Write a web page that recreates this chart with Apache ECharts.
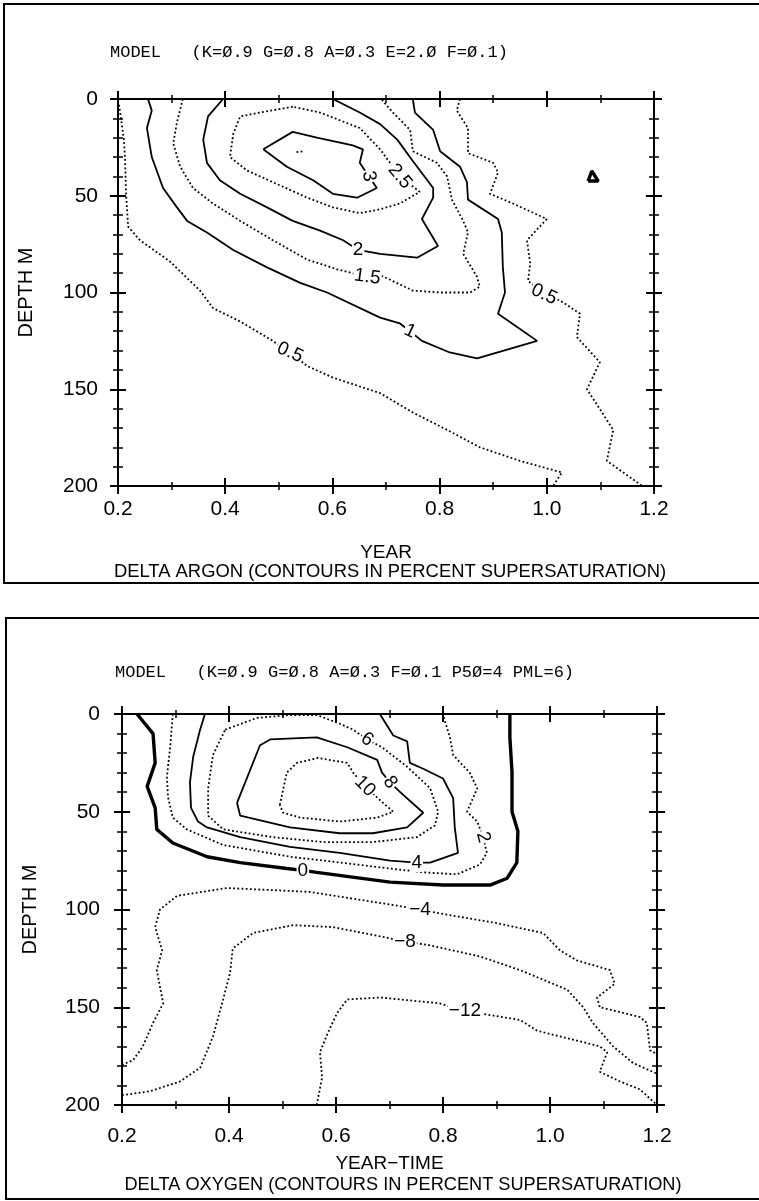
<!DOCTYPE html>
<html>
<head>
<meta charset="utf-8">
<script src="https://cdn.jsdelivr.net/npm/echarts@6/dist/echarts.min.js"></script>
<style>
html,body{margin:0;padding:0;background:#fff}
#main{width:759px;height:1201px}
</style>
</head>
<body>
<div id="main"></div>
<script>
// axis ticks
const yearTicks = [0.2, 0.4, 0.6, 0.8, 1.0, 1.2];
const depthTicks = [0, 50, 100, 150, 200];

// delta argon contours, points are [year, depth m]
const ar05Left = [[0.202,3],[0.211,21],[0.213,30],[0.215,49],[0.219,66],[0.241,73],[0.297,84],[0.353,99],[0.377,108],[0.428,115],[0.489,125],[0.521,131],[0.553,138],[0.601,144],[0.689,152],[0.750,162],[0.814,171],[0.875,180],[0.950,187],[1.028,193],[1.012,200]];
const ar05Right = [[0.838,0],[0.832,6],[0.853,15],[0.853,28],[0.900,33],[0.909,38],[0.894,49],[0.937,54],[1.000,62],[0.963,73],[0.969,85],[0.965,94],[0.993,100],[1.030,105],[1.062,111],[1.056,123],[1.099,136],[1.075,150],[1.124,171],[1.112,187],[1.168,198],[1.178,200]];
const ar05Spot = [[1.077,42.4],[1.084,37.2],[1.096,42.4],[1.077,42.4]];
const ar1 = [[0.256,0],[0.263,6],[0.254,15],[0.263,30],[0.284,46],[0.310,56],[0.329,63],[0.366,69],[0.415,78],[0.478,87],[0.540,95],[0.590,100],[0.689,113],[0.726,116],[0.745,120],[0.767,125],[0.819,131],[0.870,134],[0.982,125],[0.909,111],[0.922,100],[0.918,87],[0.916,69],[0.909,62],[0.853,52],[0.851,43],[0.838,35],[0.801,27],[0.788,16],[0.754,7],[0.750,0]];
const ar15 = [[0.321,0],[0.310,12],[0.303,23],[0.316,35],[0.340,46],[0.377,54],[0.428,63],[0.489,73],[0.553,83],[0.609,88],[0.665,92],[0.689,91],[0.750,99],[0.801,100],[0.857,100],[0.875,97],[0.870,92],[0.844,80],[0.853,69],[0.844,63],[0.823,52],[0.814,40],[0.795,33],[0.750,27],[0.745,16],[0.713,7],[0.694,1],[0.692,0]];
const ar2 = [[0.396,0],[0.368,9],[0.359,21],[0.366,33],[0.390,42],[0.428,49],[0.478,56],[0.526,63],[0.577,68],[0.620,73],[0.648,78],[0.689,80],[0.758,82],[0.797,76],[0.767,62],[0.788,51],[0.788,46],[0.750,32],[0.721,21],[0.689,13],[0.651,7],[0.601,0]];
const ar25 = [[0.526,4],[0.465,7],[0.428,9],[0.415,18],[0.409,30],[0.441,37],[0.489,43],[0.553,51],[0.601,56],[0.651,59],[0.689,57],[0.726,54],[0.763,48],[0.726,40],[0.689,26],[0.651,15],[0.577,7],[0.526,4]];
const ar3 = [[0.471,26],[0.526,17],[0.571,20],[0.638,24],[0.657,26],[0.651,33],[0.668,40],[0.683,46],[0.646,51],[0.601,49],[0.564,42],[0.515,35],[0.471,26]];
const ar35 = [[0.533,27.5],[0.546,27]];
const arLabels = [['3',0.668,40],['2.5',0.726,40],['2',0.648,78],['1.5',0.665,92],['1',0.745,120],['0.5',0.521,131],['0.5',0.995,101]];

// delta oxygen contours
const ox0 = [[0.228,0],[0.258,10],[0.262,25],[0.247,37],[0.262,48],[0.265,59],[0.295,66],[0.359,73],[0.421,76],[0.508,79],[0.538,80],[0.564,81],[0.701,86],[0.800,87.5],[0.888,87.5],[0.920,84],[0.938,76],[0.940,60],[0.929,50],[0.929,30],[0.925,12],[0.925,0]];
const ox2 = [[0.295,0],[0.290,17],[0.284,32],[0.286,42.5],[0.295,53],[0.321,59],[0.389,67],[0.514,73],[0.639,77],[0.763,81],[0.826,82],[0.869,77],[0.882,71],[0.875,63],[0.864,55],[0.845,50],[0.864,38],[0.850,30],[0.819,21],[0.813,12],[0.804,4],[0.800,0]];
const ox4 = [[0.355,0],[0.346,8],[0.333,22],[0.327,35],[0.329,48],[0.342,55],[0.359,58],[0.421,63],[0.514,68],[0.607,71],[0.701,75],[0.751,76],[0.776,76],[0.828,71],[0.822,58],[0.819,43],[0.800,33],[0.763,28],[0.738,25],[0.733,14],[0.707,11],[0.682,0]];
const ox6 = [[0.393,8],[0.452,2],[0.514,0.5],[0.564,0.5],[0.607,5],[0.632,8],[0.658,13],[0.686,17],[0.733,27],[0.776,38],[0.791,50],[0.785,57],[0.751,63],[0.669,65.5],[0.576,65.5],[0.482,63],[0.389,59],[0.361,52],[0.361,38],[0.370,21],[0.393,8]];
const ox8 = [[0.415,45.5],[0.458,16],[0.477,13],[0.564,12],[0.621,17],[0.677,23.5],[0.686,30],[0.701,35],[0.720,40],[0.763,50.5],[0.733,58],[0.669,61],[0.607,61],[0.514,58],[0.421,52],[0.415,45.5]];
const ox10 = [[0.495,46.5],[0.508,30],[0.527,25],[0.566,22.5],[0.621,25],[0.632,30],[0.654,37],[0.682,44],[0.707,50],[0.677,53],[0.607,55],[0.533,53],[0.501,50.5],[0.495,46.5]];
const oxM4 = [[0.200,179.5],[0.221,177],[0.239,170],[0.258,158],[0.277,148],[0.265,131],[0.275,121],[0.262,109],[0.271,100],[0.303,93],[0.396,89],[0.551,91],[0.714,98],[0.757,100],[0.794,102],[0.901,107],[0.987,112],[1.019,121],[1.050,126],[1.112,131],[1.121,138],[1.088,145],[1.093,150],[1.168,155],[1.181,158],[1.187,172],[1.200,174]];
const oxM8 = [[0.200,195],[0.252,193],[0.308,188],[0.346,181],[0.370,165],[0.389,146],[0.402,132.5],[0.407,120],[0.445,112],[0.520,108],[0.594,109],[0.688,114],[0.729,116.5],[0.770,118],[0.869,124],[0.944,131],[1.032,141],[1.062,150],[1.080,158],[1.118,170],[1.155,178.5],[1.200,184]];
const oxM12 = [[0.564,200],[0.574,186],[0.570,173],[0.585,163],[0.602,153],[0.621,146],[0.682,145],[0.794,148],[0.841,152],[0.888,154],[0.944,156.5],[0.976,162],[1.093,170],[1.107,173],[1.093,183],[1.131,188],[1.168,192],[1.200,200]];
const oxLabels = [['6',0.658,13],['8',0.701,35],['10',0.654,37],['4',0.751,76],['0',0.538,80],['2',0.875,63],['\u22124',0.757,100],['\u22128',0.729,116.5],['\u221212',0.841,152]];

// label angles (follow the line)
const arAngles = [-80, -50, 0, -8, -25, -25, -25];
const oxAngles = [-35, -55, -45, 0, 0, -75, 0, 0, 0];

const myChart = echarts.init(document.getElementById('main'));

function xAx(g, pos, inside, main) {
  return {
    type: 'value', gridIndex: g, position: pos,
    min: yearTicks[0], max: yearTicks[yearTicks.length - 1], interval: 0.2,
    splitLine: { show: false },
    axisLine: { onZero: false, lineStyle: { color: '#000', width: 2 } },
    axisTick: { inside: inside, length: 8, lineStyle: { color: '#000', width: 2 } },
    minorTick: { show: true, splitNumber: 2, length: 4, lineStyle: { color: '#000', width: 1.5 } },
    axisLabel: main ? { show: true, color: '#000', fontSize: 21, fontFamily: 'Liberation Sans', margin: main.margin, formatter: v => v.toFixed(1) } : { show: false },
    name: main ? main.name : '',
    nameLocation: 'middle', nameGap: main ? main.gap : 0,
    nameTextStyle: { color: '#000', fontSize: 19, fontFamily: 'Liberation Sans' }
  };
}
function yAx(g, pos, inside, main) {
  return {
    type: 'value', gridIndex: g, position: pos, inverse: true,
    min: depthTicks[0], max: depthTicks[depthTicks.length - 1], interval: 50,
    splitLine: { show: false },
    axisLine: { onZero: false, lineStyle: { color: '#000', width: 2 } },
    axisTick: { inside: inside, length: 8, lineStyle: { color: '#000', width: 2 } },
    minorTick: { show: true, splitNumber: 5, length: 5, lineStyle: { color: '#000', width: 1.5 } },
    axisLabel: main ? { show: true, color: '#000', fontSize: 21, fontFamily: 'Liberation Sans', margin: main.margin } : { show: false },
    name: main ? 'DEPTH M' : '',
    nameLocation: 'middle', nameGap: main ? main.gap : 0, nameRotate: 90,
    nameTextStyle: { color: '#000', fontSize: 20, fontFamily: 'Liberation Sans' }
  };
}

const xAxes = [
  xAx(0, 'bottom', false, { name: 'YEAR', margin: 13, gap: 57 }), xAx(0, 'bottom', true), xAx(0, 'top', false), xAx(0, 'top', true),
  xAx(1, 'bottom', false, { name: 'YEAR\u2212TIME', margin: 21, gap: 49 }), xAx(1, 'bottom', true), xAx(1, 'top', false), xAx(1, 'top', true)
];
const yAxes = [
  yAx(0, 'left', false, { margin: 20, gap: 82 }), yAx(0, 'left', true), yAx(0, 'right', false), yAx(0, 'right', true),
  yAx(1, 'left', false, { margin: 22, gap: 82 }), yAx(1, 'left', true), yAx(1, 'right', false), yAx(1, 'right', true)
];

function contour(data, panel, kind) {
  const w = kind === 'thick' ? 3.4 : 1.8;
  return {
    type: 'line', data: data, xAxisIndex: panel * 4, yAxisIndex: panel * 4,
    symbol: 'none', silent: true, z: 2,
    lineStyle: { color: '#000', width: w, type: kind === 'dot' ? [1.8, 2.4] : 'solid' }
  };
}
function labels(list, angles, panel) {
  return {
    type: 'scatter', xAxisIndex: panel * 4, yAxisIndex: panel * 4,
    symbol: 'circle', symbolSize: 1, itemStyle: { color: '#fff', opacity: 1 }, silent: true, z: 5,
    label: { show: true, position: 'inside', formatter: '{b}', color: '#000', opacity: 1, fontSize: 19,
      fontFamily: 'Liberation Sans', backgroundColor: '#fff', padding: [0, 1] },
    data: list.map((l, i) => ({ name: l[0], value: [l[1], l[2]], label: { rotate: angles[i] } }))
  };
}

const series = [
  contour(ar05Left, 0, 'dot'), contour(ar05Right, 0, 'dot'), contour(ar05Spot, 0, 'thick'),
  contour(ar1, 0, 'solid'), contour(ar15, 0, 'dot'), contour(ar2, 0, 'solid'),
  contour(ar25, 0, 'dot'), contour(ar3, 0, 'solid'), contour(ar35, 0, 'dot'),
  labels(arLabels, arAngles, 0),
  contour(ox0, 1, 'thick'), contour(ox2, 1, 'dot'), contour(ox4, 1, 'solid'),
  contour(ox6, 1, 'dot'), contour(ox8, 1, 'solid'), contour(ox10, 1, 'dot'),
  contour(oxM4, 1, 'dot'), contour(oxM8, 1, 'dot'), contour(oxM12, 1, 'dot'),
  labels(oxLabels, oxAngles, 1)
];

const mono = 'Liberation Mono';
const option = {
  animation: false,
  backgroundColor: '#fff',
  grid: [
    { left: 118, top: 99, width: 536, height: 387 },
    { left: 122, top: 714, width: 535, height: 391 }
  ],
  xAxis: xAxes,
  yAxis: yAxes,
  graphic: [
    { type: 'rect', shape: { x: 4, y: 4, width: 760, height: 579 }, style: { fill: 'none', stroke: '#000', lineWidth: 2 } },
    { type: 'rect', shape: { x: 6, y: 618, width: 760, height: 581 }, style: { fill: 'none', stroke: '#000', lineWidth: 2 } },
    { type: 'text', x: 110, y: 52, style: { text: 'MODEL   (K=\u00d8.9 G=\u00d8.8 A=\u00d8.3 E=2.\u00d8 F=\u00d8.1)', fontSize: 17, fontFamily: mono, fill: '#000', verticalAlign: 'middle' } },
    { type: 'text', x: 115, y: 672, style: { text: 'MODEL   (K=\u00d8.9 G=\u00d8.8 A=\u00d8.3 F=\u00d8.1 P5\u00d8=4 PML=6)', fontSize: 17, fontFamily: mono, fill: '#000', verticalAlign: 'middle' } },
    { type: 'text', x: 390, y: 572, style: { text: 'DELTA ARGON (CONTOURS IN PERCENT SUPERSATURATION)', fontSize: 18.4, fontFamily: 'Liberation Sans', fill: '#000', align: 'center', verticalAlign: 'middle' } },
    { type: 'text', x: 403, y: 1185, style: { text: 'DELTA OXYGEN (CONTOURS IN PERCENT SUPERSATURATION)', fontSize: 18.2, fontFamily: 'Liberation Sans', fill: '#000', align: 'center', verticalAlign: 'middle' } }
  ],
  series: series
};

myChart.setOption(option);
</script>
</body>
</html>
